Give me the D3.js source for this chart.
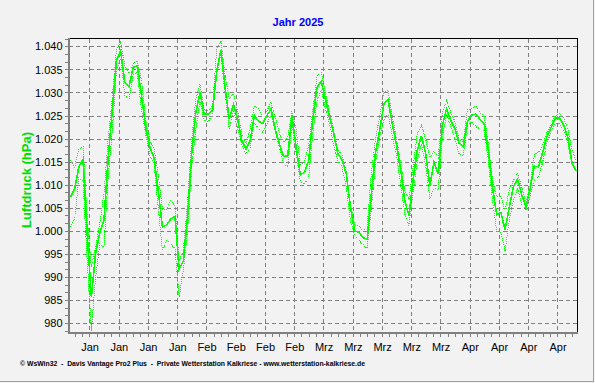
<!DOCTYPE html>
<html><head><meta charset="utf-8">
<script src="https://cdn.jsdelivr.net/npm/d3@7/dist/d3.min.js"></script>
<style>
html,body{margin:0;padding:0;background:#f2f2f2;}
svg{display:block;}
text{font-family:"Liberation Sans",Arial,sans-serif;}
</style>
</head><body>
<svg id="chart" width="595" height="383"></svg>
<script>
// ---------------- data ----------------
const chartTitle = "Jahr 2025";
const yAxisTitle = "Luftdruck (hPa)";
const footerText = "© WsWin32  -  Davis Vantage Pro2 Plus  -  Private Wetterstation Kalkriese - www.wetterstation-kalkriese.de";
const monthLabels = ["Jan", "Feb", "Mrz", "Apr", "Mai"];
const yTickValues = [980, 985, 990, 995, 1000, 1005, 1010, 1015, 1020, 1025, 1030, 1035, 1040];
const firstDay = Date.UTC(2025, 0, 1);   // daily values from 1 Jan 2025

// daily mean pressure (hPa)
const meanP = [
 1007.3,1009.1,1013.9,1015.5,999.3,985.6,995.0,999.5,1002.2,1015.6,
 1026.1,1036.9,1039.0,1032.2,1031.3,1035.4,1035.8,1029.3,1022.4,1018.1,
 1015.8,1008.7,1000.8,1001.3,1002.6,1003.1,991.7,993.5,1002.9,1016.7,
 1025.7,1030.0,1025.3,1025.3,1026.1,1034.7,1039.2,1031.1,1024.2,1027.4,
 1024.2,1019.6,1017.7,1019.6,1025.0,1023.7,1023.3,1025.0,1026.4,1022.1,
 1018.8,1016.1,1016.3,1024.8,1018.1,1012.1,1012.7,1015.2,1024.2,1031.1,
 1032.4,1028.6,1024.6,1021.0,1016.7,1015.4,1012.3,1005.1,1000.0,999.7,
 998.5,998.2,1008.0,1017.0,1021.9,1027.5,1028.5,1023.2,1018.7,1013.4,
 1006.5,1003.3,1011.2,1017.4,1020.6,1016.7,1009.8,1014.9,1012.3,1022.8,
 1026.4,1024.0,1022.1,1019.0,1018.3,1023.7,1025.1,1025.3,1024.2,1023.2,
 1017.4,1009.4,1003.5,1004.0,1000.2,1005.1,1009.6,1011.2,1007.8,1005.2,
 1009.1,1014.0,1013.9,1017.0,1020.4,1022.4,1024.4,1024.5,1023.0,1020.3,
 1014.9,1013.0
];
// daily maximum pressure (hPa)
const maxP = [
 1015.4,1013.8,1017.7,1018.3,1002.9,992.1,996.4,1001.5,1008.0,1019.6,
 1028.9,1039.1,1040.9,1035.8,1034.1,1036.3,1036.9,1032.6,1024.0,1019.5,
 1017.7,1012.3,1004.7,1004.7,1006.5,1005.5,993.5,995.7,1005.8,1019.6,
 1028.6,1031.8,1026.1,1026.1,1027.1,1039.4,1041.2,1033.6,1028.6,1029.8,
 1026.1,1021.0,1018.8,1022.1,1027.1,1026.4,1024.6,1026.0,1027.9,1024.6,
 1021.0,1019.2,1020.3,1025.9,1022.1,1014.1,1014.9,1018.5,1026.2,1033.6,
 1034.4,1030.0,1025.7,1021.7,1017.7,1016.3,1013.0,1005.8,1001.1,1001.1,
 1000.0,1000.8,1012.7,1019.9,1024.8,1030.2,1030.4,1025.0,1020.1,1014.9,
 1008.7,1006.9,1014.1,1021.0,1022.8,1019.9,1015.9,1017.2,1015.9,1025.7,
 1028.2,1025.7,1023.7,1019.9,1019.2,1026.2,1026.6,1027.1,1025.5,1025.1,
 1018.8,1010.9,1007.3,1007.5,1004.5,1008.9,1010.9,1012.5,1009.4,1006.2,
 1009.8,1016.5,1017.0,1018.6,1021.4,1023.0,1024.9,1025.5,1024.5,1022.1,
 1017.7,1015.2
];
// daily minimum pressure (hPa)
const minP = [
 1000.9,1002.6,1011.5,1010.7,993.5,978.4,989.9,997.2,996.4,1011.6,
 1021.7,1034.7,1037.5,1029.3,1028.6,1033.8,1034.3,1026.1,1021.0,1016.3,
 1014.5,1005.1,995.7,997.9,997.2,996.1,985.6,991.4,1000.0,1013.8,
 1022.1,1028.2,1023.9,1023.7,1025.3,1034.0,1038.2,1029.7,1022.1,1026.1,
 1022.1,1018.5,1016.7,1018.1,1023.5,1022.1,1021.4,1023.1,1025.3,1021.4,
 1018.1,1014.5,1013.8,1023.2,1017.0,1010.7,1010.2,1011.6,1021.4,1028.2,
 1030.5,1026.6,1023.2,1018.5,1015.2,1013.8,1009.4,1002.2,999.0,998.0,
 997.0,996.2,1004.8,1014.9,1020.4,1024.0,1025.3,1020.6,1016.5,1010.2,
 1003.7,1001.1,1008.4,1015.2,1018.8,1014.1,1006.9,1009.3,1008.9,1020.3,
 1025.3,1022.6,1019.9,1016.7,1016.3,1022.8,1023.6,1022.6,1022.1,1021.6,
 1015.2,1006.5,1000.0,999.7,995.7,1002.2,1006.7,1009.1,1005.7,1004.5,
 1007.4,1010.9,1011.6,1014.9,1019.0,1021.4,1023.2,1023.3,1021.9,1019.2,
 1014.5,1012.7
];

// ---------------- chart ----------------
const DAY = 86400000;
const dates = meanP.map((_, i) => new Date(firstDay + i * DAY + DAY / 2));

const L = 68.4, R = 577.3, T = 38.5, B = 332.7;
const x = d3.scaleUtc()
  .domain([new Date(firstDay), new Date(firstDay + 121.79 * DAY)])
  .range([L, R]);
const y = d3.scaleLinear().domain([980, 1040]).range([323.1, 46.3]);

const svg = d3.select("#chart");
svg.append("rect").attr("width", 595).attr("height", 383).attr("fill", "#f2f2f2");

const gridColor = "#808080";
const weekTicks = d3.utcMonday.range(new Date(firstDay), new Date(firstDay + 121.79 * DAY));

// grid
const grid = svg.append("g").attr("shape-rendering", "crispEdges")
  .attr("stroke", gridColor).attr("stroke-dasharray", "4,3").attr("stroke-width", 1);
grid.selectAll("line.h").data(yTickValues).join("line")
  .attr("x1", L + 1).attr("x2", R)
  .attr("y1", d => Math.round(y(d)) + 0.5).attr("y2", d => Math.round(y(d)) + 0.5);
grid.selectAll("line.v").data(weekTicks).join("line")
  .attr("y1", T).attr("y2", B)
  .attr("x1", d => Math.round(x(d)) + 0.5).attr("x2", d => Math.round(x(d)) + 0.5);

// series
svg.append("clipPath").attr("id", "plotclip")
  .append("rect").attr("x", L).attr("y", T).attr("width", R - L).attr("height", B - T);
const plot = svg.append("g").attr("clip-path", "url(#plotclip)");
const line = vals => d3.line().x((d, i) => x(dates[i])).y(d => y(d))(vals);
plot.append("path").attr("d", line(maxP)).attr("fill", "none").attr("shape-rendering", "crispEdges")
  .attr("stroke", "#00ff00").attr("stroke-width", 1).attr("stroke-dasharray", "1,1");
plot.append("path").attr("d", line(minP)).attr("fill", "none").attr("shape-rendering", "crispEdges")
  .attr("stroke", "#00ff00").attr("stroke-width", 1).attr("stroke-dasharray", "1,1");
plot.append("path").attr("d", line(meanP)).attr("fill", "none").attr("shape-rendering", "crispEdges")
  .attr("stroke", "#00ff00").attr("stroke-width", 1.6);

// frame: top and right black, left and bottom gray axes
const frame = svg.append("g").attr("shape-rendering", "crispEdges");
frame.append("line").attr("x1", L).attr("x2", R + 1).attr("y1", 38.5).attr("y2", 38.5)
  .attr("stroke", "#000").attr("stroke-width", 1);
frame.append("line").attr("x1", 577.5).attr("x2", 577.5).attr("y1", 38).attr("y2", B)
  .attr("stroke", "#000").attr("stroke-width", 1.5);
frame.append("line").attr("x1", 68.7).attr("x2", 68.7).attr("y1", 38).attr("y2", 334)
  .attr("stroke", gridColor).attr("stroke-width", 2);
frame.append("line").attr("x1", 67.7).attr("x2", R + 1).attr("y1", 332.7).attr("y2", 332.7)
  .attr("stroke", gridColor).attr("stroke-width", 2);

// minor ticks
const yMinor = d3.range(-1, 38).map(k => 980 + k * 5 / 3);
frame.selectAll("line.ym").data(yMinor).join("line")
  .attr("x1", 64.7).attr("x2", 67.7)
  .attr("y1", d => Math.round(y(d)) + 0.5).attr("y2", d => Math.round(y(d)) + 0.5)
  .attr("stroke", gridColor);
const xMinor = d3.range(-3, 68).map(k => new Date(firstDay + 5 * DAY + k * 1.75 * DAY))
  .filter(d => x(d) > L + 2 && x(d) < R);
frame.selectAll("line.xm").data(xMinor).join("line")
  .attr("y1", 333.7).attr("y2", 337)
  .attr("x1", d => Math.round(x(d)) + 0.5).attr("x2", d => Math.round(x(d)) + 0.5)
  .attr("stroke", gridColor);

// outer border of image
frame.append("line").attr("x1", 593.5).attr("x2", 593.5).attr("y1", 0).attr("y2", 382)
  .attr("stroke", "#a0a0a0");
frame.append("line").attr("x1", 0).attr("x2", 594).attr("y1", 381.5).attr("y2", 381.5)
  .attr("stroke", "#a0a0a0");

// axis labels via d3 axes
const deLocale = d3.formatLocale({decimal: ",", thousands: ".", grouping: [3], currency: ["", " €"]});
const fmt = deLocale.format(",");
const yAxis = d3.axisLeft(y).tickValues(yTickValues).tickSize(0).tickPadding(0).tickFormat(fmt);
const gy = svg.append("g").attr("transform", "translate(62.5,0)").call(yAxis);
gy.select(".domain").remove();
gy.selectAll("text").attr("font-size", 11).attr("fill", "#000")
  .attr("font-family", "'Liberation Sans',Arial,sans-serif").attr("dy", "0.33em");

const xAxis = d3.axisBottom(x).tickValues(weekTicks).tickSize(0).tickPadding(0)
  .tickFormat(d => monthLabels[d.getUTCMonth()]);
const gx = svg.append("g").attr("transform", "translate(0.3,343)").call(xAxis);
gx.select(".domain").remove();
gx.selectAll("text").attr("font-size", 11).attr("fill", "#000")
  .attr("font-family", "'Liberation Sans',Arial,sans-serif").attr("dy", "0.71em");

// titles
svg.append("text").attr("x", 298).attr("y", 26).attr("text-anchor", "middle")
  .attr("font-size", 11).attr("font-weight", "bold").attr("fill", "#0000ff").text(chartTitle);
svg.append("text").attr("transform", "translate(30.5,180) rotate(-90)")
  .attr("text-anchor", "middle").attr("font-size", 13).attr("font-weight", "bold")
  .attr("fill", "#00e000").text(yAxisTitle);
svg.append("text").attr("x", 20).attr("y", 366).attr("font-size", 7).attr("font-weight", "bold")
  .attr("font-family", "'DejaVu Sans',Verdana,sans-serif")
  .attr("style", "white-space:pre").attr("textLength", 345).attr("lengthAdjust", "spacingAndGlyphs")
  .attr("fill", "#000").text(footerText);
</script>
</body></html>
